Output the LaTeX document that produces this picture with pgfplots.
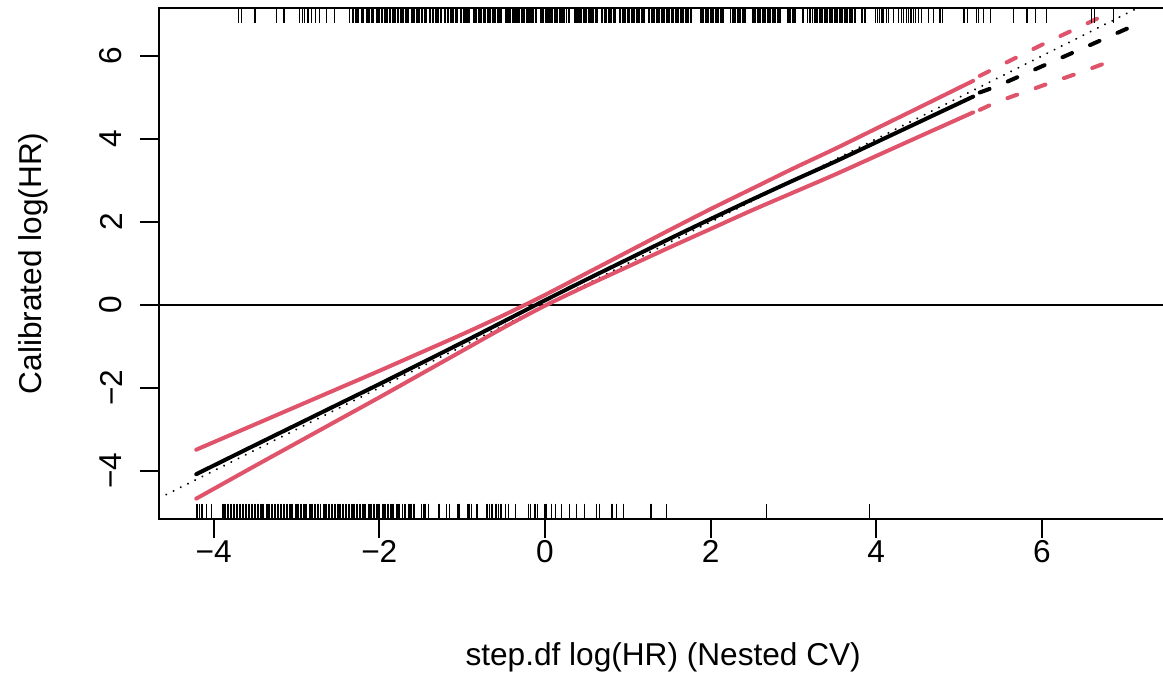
\documentclass[border=0pt]{standalone}
\usepackage{fontspec}
\setmainfont{Liberation Sans}
\usepackage{pgfplots}
\pgfplotsset{compat=1.18}
\definecolor{rred}{HTML}{DF536B}
\newcommand\rfont{\fontsize{13.7}{16.4}\selectfont}
\begin{document}
\begin{tikzpicture}
\begin{axis}[
  at={(0pt,0pt)}, anchor=south west,
  scale only axis, width=436.1pt, height=221.5pt,
  xmin=-4.66, xmax=7.49, ymin=-5.16, ymax=7.16,
  axis line style={line width=0.87pt},
  xtick={-4,-2,0,2,4,6}, xticklabels={−4,−2,0,2,4,6},
  ytick={-4,-2,0,2,4,6}, yticklabels={−4,−2,0,2,4,6},
  xtick pos=bottom, ytick pos=left,
  tick align=outside, major tick length=8.3pt,
  tick style={line width=0.87pt, black},
  xticklabel style={font=\rfont, anchor=center},
  yticklabel style={font=\rfont, anchor=center, rotate=90},
  xticklabel shift=6pt, yticklabel shift=12.5pt,
]
% reference lines
\addplot[black, line width=0.87pt, dash pattern=on 0.1pt off 3.4pt, line cap=round] coordinates {(-4.66,-4.66) (7.49,7.49)};
\addplot[black, line width=0.87pt] coordinates {(-4.66,0) (7.49,0)};
% rugs (bottom: sparse ends)
\addplot[only marks, mark=|, mark size=3.32pt, mark options={line width=0.5pt, black}] table[y expr=-4.976] {
x
-4.21
-4.20
-4.17
-4.14
-4.09
-4.03
-1.72
-1.69
-1.65
-1.63
-1.61
-1.59
-1.57
-1.49
-1.46
-1.44
-1.41
-1.28
-1.19
-1.15
-1.05
-1.03
-0.93
-0.91
-0.89
-0.82
-0.70
-0.67
-0.64
-0.60
-0.58
-0.56
-0.54
-0.52
-0.48
-0.44
-0.36
-0.20
-0.17
-0.12
-0.09
0.00
0.02
0.08
0.13
0.20
0.30
0.38
0.48
0.62
0.66
0.81
0.82
0.86
0.95
1.27
1.29
1.47
2.67
3.92
};
% bottom dense part
\addplot[only marks, mark=|, mark size=3.32pt, mark options={line width=0.85pt, black}] table[y expr=-4.976] {
x
-3.89
-3.86
-3.83
-3.79
-3.75
-3.72
-3.68
-3.64
-3.61
-3.57
-3.54
-3.50
-3.47
-3.43
-3.40
-3.36
-3.33
-3.29
-3.26
-3.22
-3.19
-3.15
-3.12
-3.08
-3.05
-3.01
-2.98
-2.95
-2.91
-2.88
-2.84
-2.81
-2.78
-2.74
-2.71
-2.67
-2.64
-2.61
-2.57
-2.54
-2.50
-2.47
-2.44
-2.40
-2.37
-2.33
-2.30
-2.27
-2.23
-2.20
-2.17
-2.13
-2.10
-2.06
-2.03
-2.00
-1.96
-1.93
-1.89
-1.86
-1.83
-1.79
-1.76
};
% top sparse ends
\addplot[only marks, mark=|, mark size=3.32pt, mark options={line width=0.5pt, black}] table[y expr=6.976] {
x
-3.70
-3.66
-3.50
-3.24
-3.15
-2.96
-2.93
-2.90
-2.87
-2.85
-2.82
-2.77
-2.72
-2.64
-2.54
3.99
4.01
4.04
4.07
4.09
4.12
4.15
4.21
4.27
4.30
4.33
4.36
4.39
4.42
4.45
4.47
4.51
4.55
4.63
4.69
4.77
4.80
5.06
5.10
5.21
5.23
5.29
5.38
5.66
5.82
5.92
6.06
6.60
6.64
6.86
};
% top dense part
\addplot[only marks, mark=|, mark size=3.32pt, mark options={line width=0.85pt, black}] table[y expr=6.976] {
x
-2.36
-2.32
-2.28
-2.26
-2.21
-2.20
-2.15
-2.13
-2.09
-2.07
-2.03
-2.00
-1.97
-1.93
-1.91
-1.87
-1.84
-1.81
-1.78
-1.74
-1.71
-1.68
-1.65
-1.61
-1.58
-1.55
-1.52
-1.49
-1.45
-1.43
-1.39
-1.35
-1.32
-1.29
-1.25
-1.21
-1.17
-1.14
-1.11
-1.08
-1.06
-1.01
-0.98
-0.95
-0.93
-0.92
-0.86
-0.83
-0.80
-0.77
-0.74
-0.72
-0.69
-0.66
-0.63
-0.60
-0.57
-0.55
-0.53
-0.47
-0.45
-0.42
-0.39
-0.36
-0.34
-0.31
-0.28
-0.25
-0.22
-0.19
-0.17
-0.14
-0.11
-0.05
-0.02
0.01
0.04
0.06
0.09
0.12
0.15
0.18
0.20
0.23
0.26
0.29
0.36
0.39
0.41
0.44
0.47
0.50
0.53
0.56
0.58
0.61
0.63
0.69
0.72
0.74
0.77
0.80
0.83
0.85
0.91
0.94
0.97
1.00
1.02
1.05
1.08
1.11
1.14
1.17
1.19
1.26
1.29
1.32
1.35
1.38
1.41
1.44
1.47
1.50
1.53
1.55
1.58
1.61
1.64
1.67
1.70
1.73
1.76
1.88
1.91
1.94
1.97
2.00
2.03
2.06
2.09
2.12
2.15
2.24
2.27
2.30
2.33
2.36
2.39
2.42
2.51
2.54
2.57
2.60
2.63
2.66
2.69
2.72
2.75
2.78
2.81
2.84
2.93
2.96
2.99
3.02
3.11
3.17
3.20
3.23
3.26
3.29
3.32
3.35
3.38
3.41
3.44
3.47
3.50
3.53
3.56
3.59
3.62
3.65
3.68
3.71
3.74
3.83
3.86
};
% confidence limits (solid)
\addplot[rred, line width=1.73pt, smooth, line cap=round] coordinates {
(-4.21,-3.49) (-3.5,-2.88) (-3,-2.45) (-2.5,-2.02) (-2,-1.59) (-1.5,-1.15) (-1,-0.71) (-0.5,-0.25) (0,0.24) (0.5,0.76) (1,1.28) (1.5,1.80) (2,2.31) (2.5,2.80) (3,3.29) (3.5,3.76) (4,4.25) (4.5,4.74) (5.17,5.40)};
\addplot[rred, line width=1.73pt, smooth, line cap=round] coordinates {
(-4.21,-4.67) (-3.5,-3.88) (-3,-3.33) (-2.5,-2.78) (-2,-2.23) (-1.5,-1.67) (-1,-1.11) (-0.5,-0.55) (0,-0.02) (0.5,0.46) (1,0.92) (1.5,1.38) (2,1.83) (2.5,2.28) (3,2.71) (3.5,3.14) (4,3.59) (4.5,4.04) (5.17,4.64)};
\addplot[black, line width=1.73pt, smooth, line cap=round] coordinates {
(-4.21,-4.08) (-3.5,-3.38) (-3,-2.89) (-2.5,-2.40) (-2,-1.91) (-1.5,-1.41) (-1,-0.91) (-0.5,-0.40) (0,0.11) (0.5,0.61) (1,1.10) (1.5,1.59) (2,2.07) (2.5,2.54) (3,3.00) (3.5,3.45) (4,3.92) (4.5,4.39) (5.17,5.02)};
% extrapolated parts (dashed)
\addplot[rred, line width=1.73pt, smooth, line cap=round, dash pattern=on 4.5pt off 8.5pt] coordinates {
(5.25,5.52) (5.5,5.77) (6,6.27) (6.5,6.74) (6.80,7.03)};
\addplot[rred, line width=1.73pt, smooth, line cap=round, dash pattern=on 4.5pt off 8.5pt] coordinates {
(5.25,4.70) (5.5,4.92) (6,5.28) (6.5,5.63) (6.86,5.90)};
\addplot[black, line width=1.73pt, smooth, line cap=round, dash pattern=on 4.5pt off 8.5pt] coordinates {
(5.25,5.12) (5.5,5.31) (6,5.75) (6.5,6.19) (7.04,6.67)};
\end{axis}
\node[font=\rfont, rotate=90] at (-54.6pt,110.75pt) {Calibrated log(HR)};
\node[font=\rfont] at (218.5pt,-59.8pt) {step.df log(HR) (Nested CV)};
\pgfresetboundingbox
\useasboundingbox (-68.9pt,-66.7pt) rectangle (435.1pt,224.9pt);
\end{tikzpicture}
\end{document}
